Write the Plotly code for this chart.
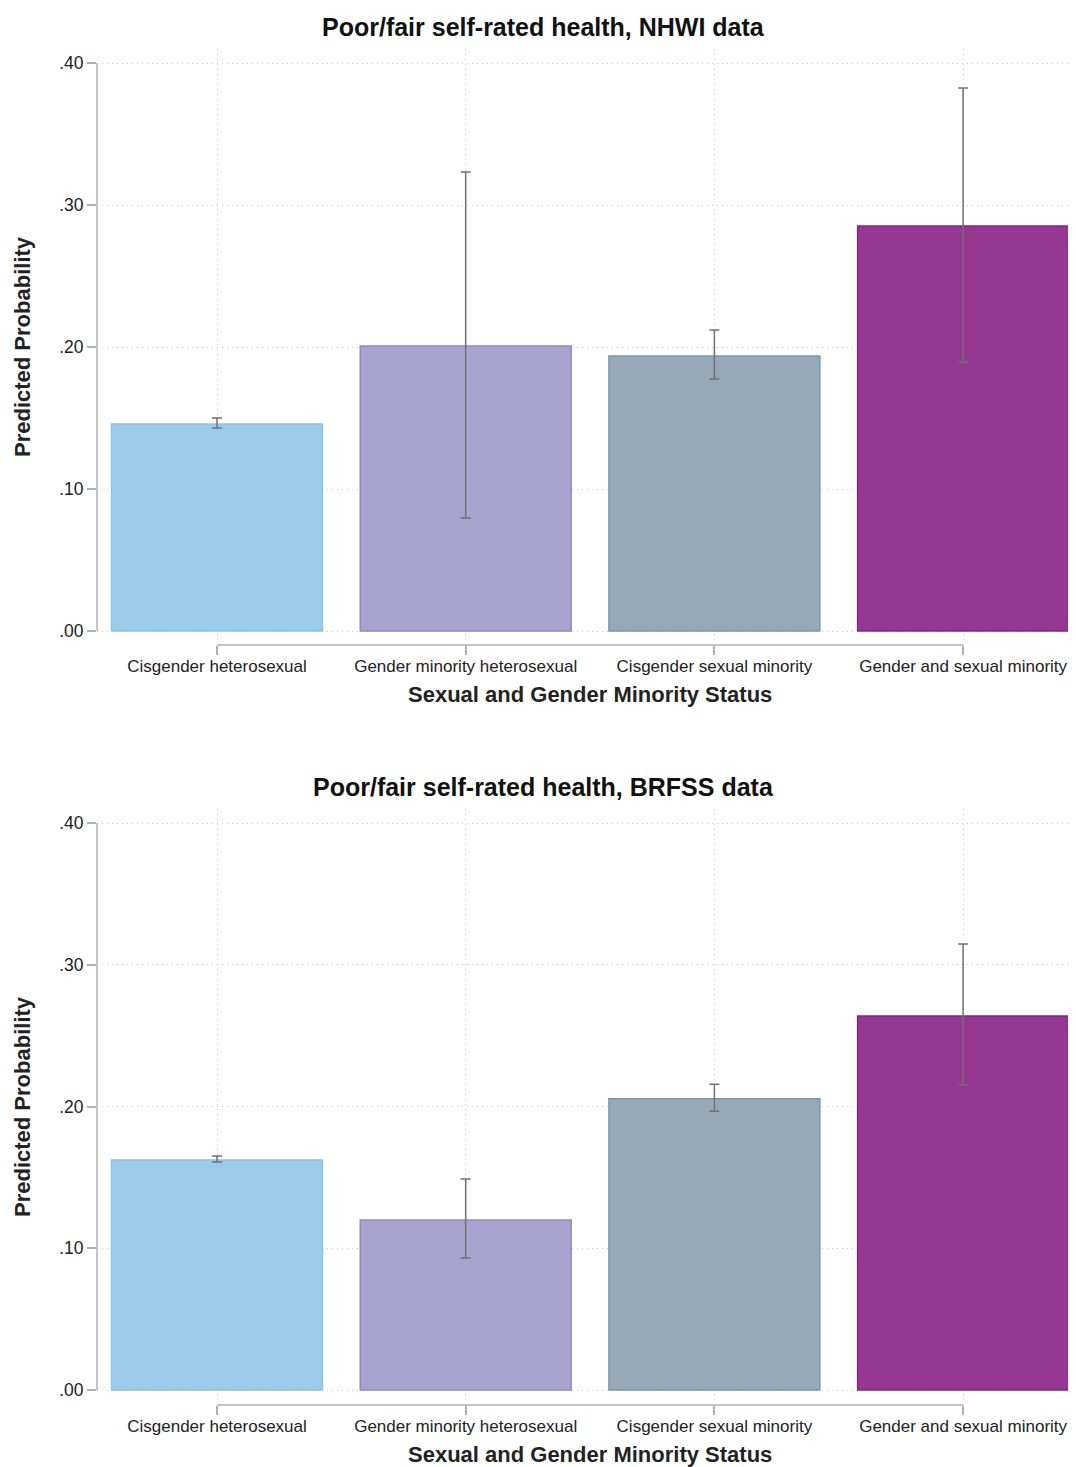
import plotly.graph_objects as go

categories = ["Cisgender heterosexual", "Gender minority heterosexual",
              "Cisgender sexual minority", "Gender and sexual minority"]
nhwi_values = [0.1458, 0.2007, 0.1937, 0.2852]
nhwi_upper = [0.1500, 0.3232, 0.2120, 0.3824]
nhwi_lower = [0.1430, 0.0796, 0.1775, 0.1894]
brfss_values = [0.1623, 0.1199, 0.2055, 0.2638]
brfss_upper = [0.1651, 0.1489, 0.2157, 0.3146]
brfss_lower = [0.1608, 0.0931, 0.1966, 0.2152]
ytick_vals = [0.0, 0.1, 0.2, 0.3, 0.4]
ytick_text = [".00", ".10", ".20", ".30", ".40"]
titles = ["Poor/fair self-rated health, NHWI data", "Poor/fair self-rated health, BRFSS data"]

fills = ["#9BCBEA", "#A9A4CF", "#96A9B8", "#973794"]
borders = ["#8EC1E8", "#9089C2", "#7D94A9", "#7F2A80"]
FONT = "Liberation Sans, Arial, Helvetica, sans-serif"
OFF = 8  # page body margin
W, H = 1076, 1467


def px(v):
    return v - OFF


fig = go.Figure()
xpos = list(range(len(categories)))

panels = [
    (nhwi_values, nhwi_upper, nhwi_lower, "x", "y", (49, 645), 631, 63),
    (brfss_values, brfss_upper, brfss_lower, "x2", "y2", (809, 1405), 1390, 823),
]

layout = dict(
    width=W, height=H, margin=dict(l=0, r=0, t=0, b=0),
    plot_bgcolor="white", paper_bgcolor="white", showlegend=False,
    font=dict(family=FONT, color="#222222"),
)
annotations = []
shapes = []
GRID = dict(showgrid=True, gridcolor="#c4c4c4", griddash="1px,4px", gridwidth=1)

for i, (vals, up, lo, xa, ya, (ytop, ybot), y0px, y40px) in enumerate(panels):
    for j in xpos:
        fig.add_trace(go.Bar(
            x=[j], y=[vals[j]], xaxis=xa, yaxis=ya, width=0.848,
            marker=dict(color=fills[j], line=dict(color=borders[j], width=1.5)),
            error_y=dict(type="data", symmetric=False,
                         array=[up[j] - vals[j]], arrayminus=[vals[j] - lo[j]],
                         color="#707070", thickness=1.5, width=5),
        ))
    pxper = (y0px - y40px) / 0.4
    rng = [-(ybot - y0px) / pxper, (y0px - ytop) / pxper]
    dom = [1 - px(ybot) / H, 1 - px(ytop) / H]
    xname = "xaxis" if i == 0 else "xaxis2"
    yname = "yaxis" if i == 0 else "yaxis2"
    layout[xname] = dict(
        domain=[px(97) / W, px(1076) / W], range=[-0.4825, 3.454], anchor=ya,
        tickvals=xpos, ticktext=categories, ticks="outside", ticklen=9,
        tickcolor="#b0b0b0", tickwidth=1.5, showline=False, zeroline=False,
        ticklabelstandoff=-3,
        tickfont=dict(size=17, color="#222222", family=FONT), **GRID,
    )
    layout[yname] = dict(
        domain=dom, range=rng, anchor=xa,
        tickvals=ytick_vals, ticktext=ytick_text, ticks="outside", ticklen=9,
        tickcolor="#b0b0b0", tickwidth=1.5, showline=False, zeroline=False,
        tickfont=dict(size=17.5, color="#222222", family=FONT), **GRID,
    )
    shapes.append(dict(type="line", xref=f"{xa} domain", yref=ya, x0=0, x1=0,
                       y0=0, y1=0.4, line=dict(color="#b0b0b0", width=1.5)))
    shapes.append(dict(type="line", xref=xa, yref=f"{ya} domain", x0=0, x1=3,
                       y0=0, y1=0, line=dict(color="#b0b0b0", width=1.5)))
    annotations.append(dict(text=f"<b>{titles[i]}</b>", xref="paper", yref="paper",
                            x=px(543) / W, y=1 - px(ytop - 22) / H, showarrow=False,
                            font=dict(size=25, color="#111111", family=FONT),
                            xanchor="center", yanchor="middle"))
    annotations.append(dict(text="<b>Predicted Probability</b>", xref="paper", yref="paper",
                            x=px(22) / W, y=1 - px((ytop + ybot) / 2) / H, showarrow=False,
                            textangle=-90,
                            font=dict(size=22, color="#222222", family=FONT),
                            xanchor="center", yanchor="middle"))
    annotations.append(dict(text="<b>Sexual and Gender Minority Status</b>", xref="paper",
                            yref="paper", x=px(590) / W, y=1 - px(ybot + 49) / H,
                            showarrow=False,
                            font=dict(size=22, color="#222222", family=FONT),
                            xanchor="center", yanchor="middle"))

layout["annotations"] = annotations
layout["shapes"] = shapes
fig.update_layout(**layout)
fig.write_html("out.html")
